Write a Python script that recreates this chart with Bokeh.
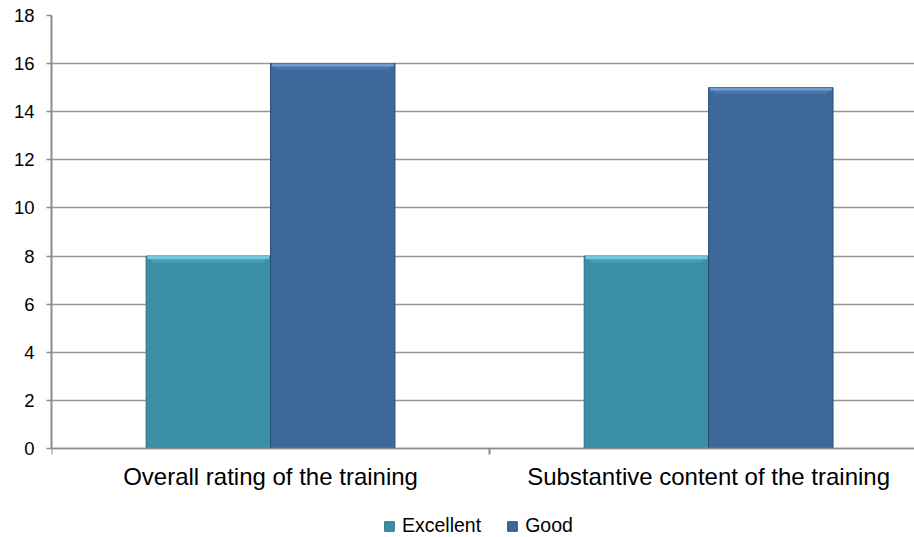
from bokeh.plotting import figure
from bokeh.models import FixedTicker, Legend, LegendItem, Range1d
from bokeh.embed import file_html
from bokeh.resources import INLINE

categories = ["Overall rating of the training", "Substantive content of the training"]
series_names = ["Excellent", "Good"]
excellent = [8, 8]
good = [16, 15]
y_ticks = [0, 2, 4, 6, 8, 10, 12, 14, 16, 18]

FONT = "Liberation Sans"
colors = {"Excellent": ("#3a8fa6", "#55aac0", "#78cfe6", "#2a6f80"),
          "Good": ("#3d6899", "#5382b8", "#72a0d8", "#2b4d75")}

centers = [i + 0.5 for i in range(len(categories))]
bar_w = 0.284
offsets = {"Excellent": -bar_w / 2, "Good": bar_w / 2}
values = {"Excellent": excellent, "Good": good}

# frame runs to the bottom of the page; value 0 sits where the category axis is drawn
p = figure(width=914, height=537, output_backend="svg", toolbar_location=None,
           x_range=Range1d(0, 1.97), y_range=Range1d(-3.70, 18),
           x_axis_location="above",
           min_border_left=51, min_border_right=0, min_border_top=15,
           min_border_bottom=0)
p.outline_line_color = None
p.background_fill_color = "white"
p.border_fill_color = "white"

renderers = {}
for name in series_names:
    main, mid, light, dark = colors[name]
    xs = [c + offsets[name] for c in centers]
    vals = values[name]
    r = p.vbar(x=xs, top=vals, bottom=0, width=bar_w, fill_color=main,
               line_color=dark, line_width=1)
    p.vbar(x=xs, top=[v - 0.13 for v in vals], bottom=[v - 0.27 for v in vals],
           width=bar_w - 0.025, fill_color=mid, fill_alpha=0.55, line_color=None)
    p.vbar(x=xs, top=vals, bottom=[v - 0.13 for v in vals], width=bar_w - 0.006,
           fill_color=light, fill_alpha=0.9, line_color=None)
    renderers[name] = r

# category axis, drawn at value 0
xa = p.xaxis[0]
xa.fixed_location = 0
xa.ticker = FixedTicker(ticks=centers, minor_ticks=[0, 1, 2])
xa.major_label_overrides = {c: lab for c, lab in zip(centers, categories)}
xa.major_tick_out = 0
xa.major_tick_in = 0
xa.minor_tick_out = 0
xa.minor_tick_in = 6
xa.minor_tick_line_color = "#8c8c8c"
xa.minor_tick_line_width = 2
xa.axis_line_color = "#8c8c8c"
xa.axis_line_width = 1.5
xa.major_label_standoff = -42
xa.major_label_text_font = FONT
xa.major_label_text_font_size = "24px"
xa.major_label_text_color = "black"

ya = p.yaxis[0]
ya.ticker = FixedTicker(ticks=y_ticks)
ya.bounds = (0, 18)
ya.minor_tick_line_color = None
ya.major_tick_out = 5
ya.major_tick_in = 0
ya.major_tick_line_color = "#8c8c8c"
ya.major_tick_line_width = 1.5
ya.axis_line_color = "#8c8c8c"
ya.axis_line_width = 2
ya.major_label_standoff = 12
ya.major_label_text_font = FONT
ya.major_label_text_font_size = "18.5px"
ya.major_label_text_color = "black"

p.xgrid.grid_line_color = None
p.ygrid.ticker = FixedTicker(ticks=y_ticks)
p.ygrid.grid_line_color = "#969696"
p.ygrid.grid_line_width = 1.5
p.ygrid.level = "underlay"

legend = Legend(items=[LegendItem(label=n, renderers=[renderers[n]]) for n in series_names],
                orientation="horizontal", location=(332, 0),
                label_text_font=FONT, label_text_font_size="19.5px",
                label_text_color="black",
                glyph_width=12, glyph_height=12, label_standoff=7, spacing=25,
                padding=0, margin=0, border_line_color=None,
                background_fill_alpha=0)
p.add_layout(legend)

open("out.html", "w").write(file_html(p, INLINE))
